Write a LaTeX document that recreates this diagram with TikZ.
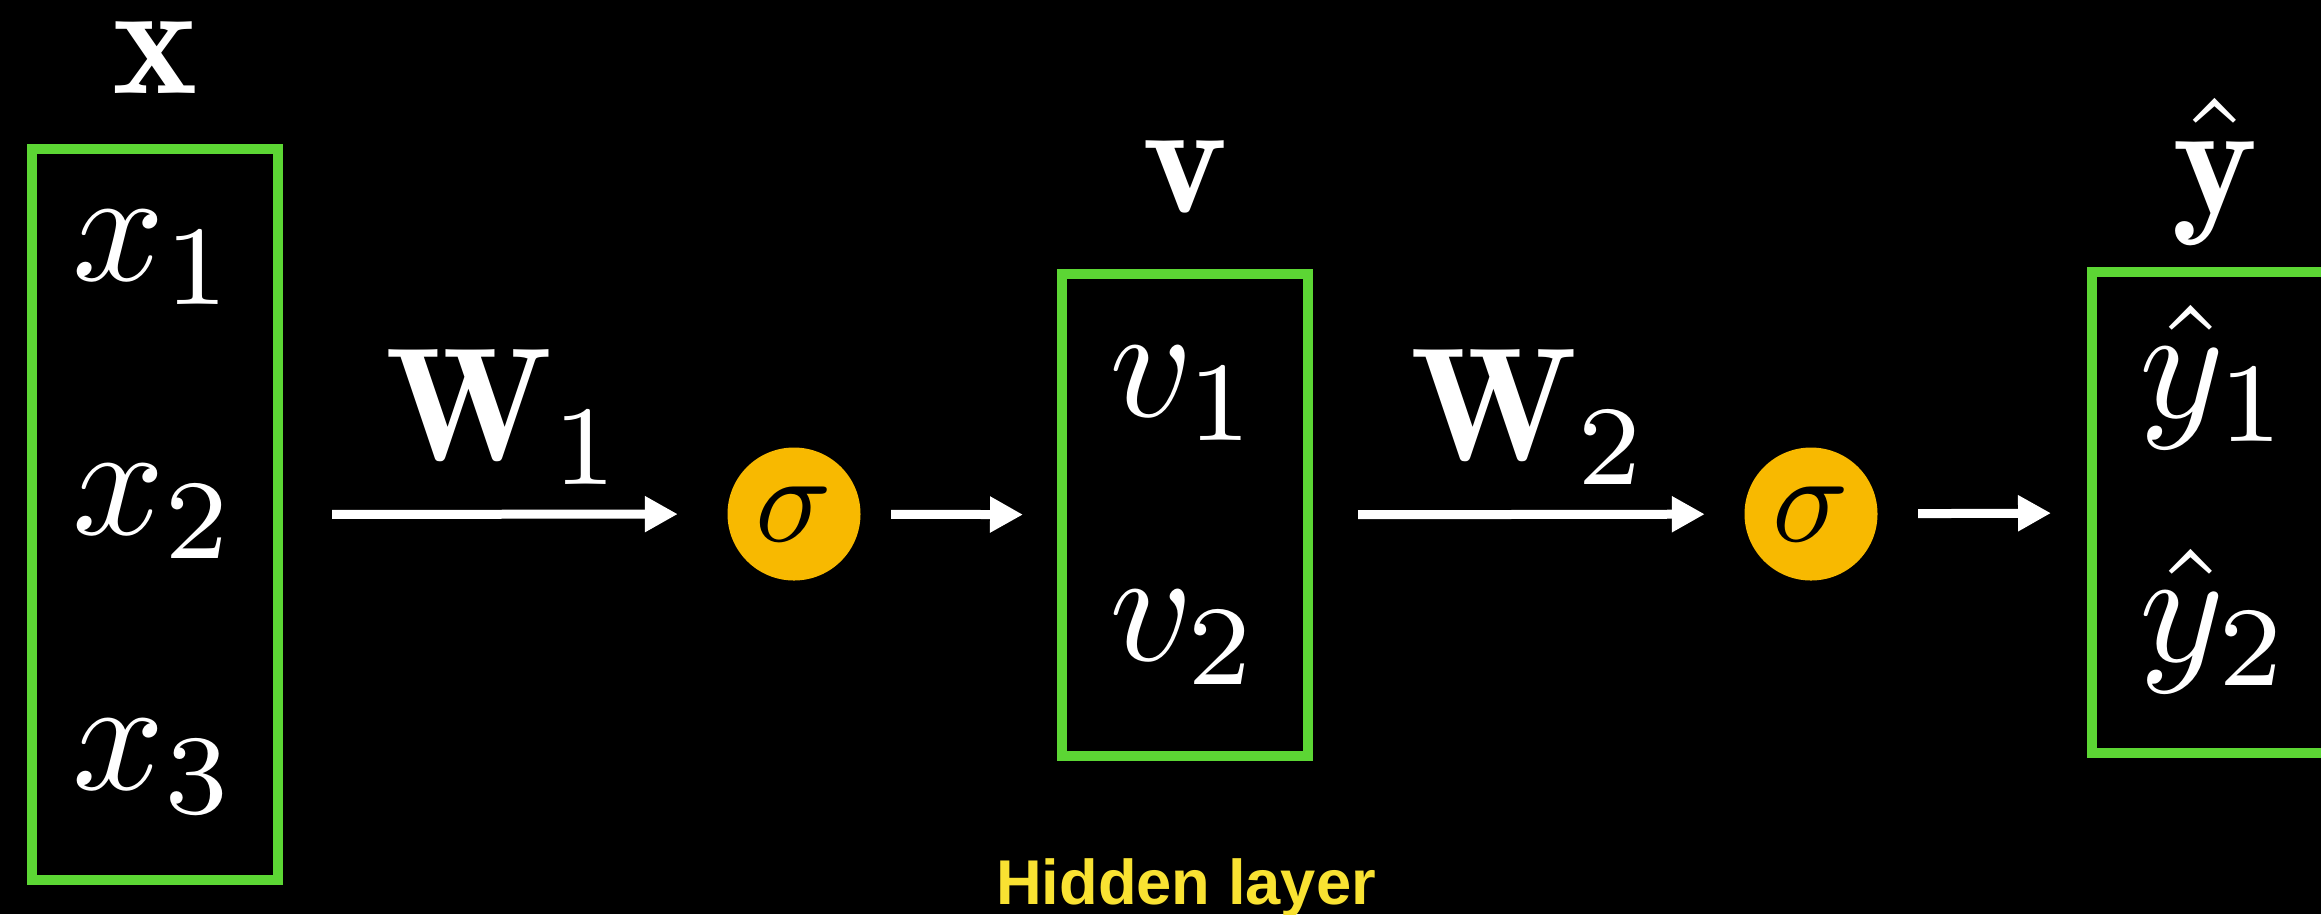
\documentclass[tikz,border=0pt]{standalone}
\usepackage{amsmath}
\usepackage{fontspec}
\newfontfamily\labelfont{Liberation Sans}
\usetikzlibrary{arrows.meta}

\definecolor{boxgreen}{RGB}{92,214,52}
\definecolor{sigmaorange}{RGB}{248,185,0}
\definecolor{hiddenyellow}{RGB}{249,226,50}

\begin{document}
\begin{tikzpicture}[
    vecbox/.style={draw=boxgreen, line width=0.1cm, minimum width=2.46cm, inner sep=0pt},
    sig/.style={circle, fill=sigmaorange, minimum size=1.33cm, inner sep=0pt},
    entry/.style={text=white, anchor=base, inner sep=0pt, scale=4.6},
    arr/.style={white, line width=0.09cm, -{Triangle[length=0.33cm, width=0.34cm]}}
]
    \useasboundingbox (0,0) rectangle (23.21,-9.14);
    \fill[black] (0,0) rectangle (23.21,-9.14);

    % Draw vectors
    \node[vecbox, minimum height=7.31cm] (xvec) at (1.55,-5.145) {};
    \node[vecbox, minimum height=4.82cm] (vvec) at (11.85,-5.15) {};
    \node[vecbox, minimum height=4.81cm] (yvec) at (22.15,-5.125) {};

    % Entries
    \node[entry] (x1) at (1.55,-2.80) {$x_1$};
    \node[entry] (x2) at (1.55,-5.34) {$x_2$};
    \node[entry] (x3) at (1.55,-7.89) {$x_3$};
    \node[entry] (v1) at (11.85,-4.16) {$v_1$};
    \node[entry] (v2) at (11.85,-6.60) {$v_2$};
    \node[entry] (y1) at (22.15,-4.17) {$\hat{y}_1$};
    \node[entry] (y2) at (22.15,-6.61) {$\hat{y}_2$};

    % Labels
    \node[entry] (xlab) at (1.55,-0.93) {$\mathbf{x}$};
    \node[entry] (vlab) at (11.85,-2.12) {$\mathbf{v}$};
    \node[entry] (ylab) at (22.15,-2.13) {$\hat{\mathbf{y}}$};
    \node[entry] (w1) at (5.05,-4.60) {$\mathbf{W}_1$};
    \node[entry] (w2) at (15.30,-4.60) {$\mathbf{W}_2$};

    % Activations
    \node[sig] (sig1) at (7.94,-5.14) {\scalebox{3.6}{$\sigma$}};
    \node[sig] (sig2) at (18.11,-5.14) {\scalebox{3.6}{$\sigma$}};

    % Draw connections
    \draw[arr, shorten <=0.49cm, shorten >=0.49cm] (xvec) -- (sig1);
    \draw[arr, shorten <=0.30cm, shorten >=0.34cm] (sig1) -- (vvec);
    \draw[arr, shorten <=0.45cm, shorten >=0.39cm] (vvec) -- (sig2);
    \draw[arr, shorten <=0.40cm, shorten >=0.36cm] (sig2) -- (yvec);

    \node[text=hiddenyellow, anchor=base, font=\labelfont\bfseries\fontsize{18}{22}\selectfont] (hid) at (11.86,-9.04) {Hidden layer};
\end{tikzpicture}
\end{document}
